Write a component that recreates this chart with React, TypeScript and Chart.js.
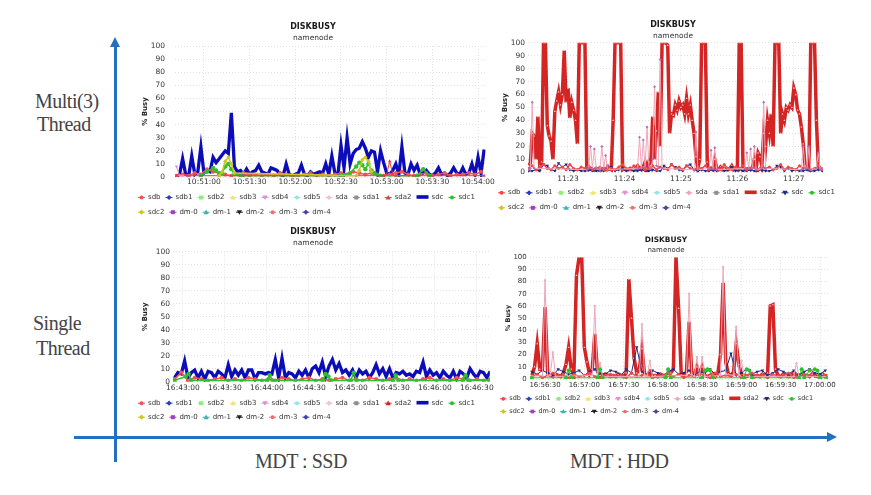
import React, { useEffect, useRef } from "react";
import { Chart, registerables } from "chart.js";

Chart.register(...registerables);

const FONT = "'DejaVu Sans', 'Liberation Sans', sans-serif";
const SERIF = "'Liberation Serif', 'DejaVu Serif', serif";
const AXIS_BLUE = "#2470c0";
const GRID = "#e2e2e2";

// ---------------- series names / colours ----------------
const SERIES_NAMES = ["sdb", "sdb1", "sdb2", "sdb3", "sdb4", "sdb5", "sda", "sda1", "sda2", "sdc", "sdc1", "sdc2", "dm-0", "dm-1", "dm-2", "dm-3", "dm-4"];
const SERIES_COLORS: Record<string, string> = {
  sdb: "#f25252", sdb1: "#2b3dbd", sdb2: "#90ed7d", sdb3: "#f3e46a", sdb4: "#e58ad6", sdb5: "#8ee6e6",
  sda: "#f5c2c8", sda1: "#8d8d8d", sda2: "#d42424", sdc: "#0c0cb8", sdc1: "#2fbf2f", sdc2: "#cfc626",
  "dm-0": "#a040c0", "dm-1": "#3cb3b3", "dm-2": "#222222", "dm-3": "#f26d6d", "dm-4": "#4545a5",
};
const MARKERS = ["circle", "diamond", "square", "triangle", "triangle-down"];

// ---------------- chart 1 : multi thread / SSD (seconds after 10:50:00) ----------------
const C1_TICKS = [60, 90, 120, 150, 180, 210, 240];
const C1_TICK_LABELS = ["10:51:00", "10:51:30", "10:52:00", "10:52:30", "10:53:00", "10:53:30", "10:54:00"];
const C1_SDC = [0, 2, 14, 2, 1, 16, 2, 4, 23, 3, 5, 4, 15, 11, 14, 17, 20, 18, 49, 8, 4, 5, 2, 6, 2, 4, 5, 9, 4, 3, 2, 7, 6, 5, 2, 1, 10, 2, 1, 2, 3, 9, 2, 1, 4, 2, 3, 4, 3, 10, 2, 16, 3, 2, 24, 7, 30, 10, 18, 21, 22, 27, 22, 15, 20, 19, 4, 20, 11, 3, 2, 5, 10, 2, 23, 3, 2, 10, 5, 9, 2, 3, 5, 2, 1, 3, 7, 2, 3, 1, 3, 7, 3, 2, 7, 2, 3, 10, 2, 15, 3, 21];
const C1_SDB = [1, 2, 1, 3, 2, 6, 4, 3, 2, 1, 2, 3, 1, 2, 1, 2, 1, 3, 2, 1, 1, 2, 3, 1, 2, 1, 2, 3, 2, 4, 3, 2, 3, 2, 1, 2, 3, 4, 2, 1, 2, 3, 1, 2, 3, 1, 2, 2, 3, 2, 4];
const C1_SDC1_T = [58, 62, 66, 68, 70, 72, 74, 76, 78, 80, 84, 150, 156, 160, 162, 164, 166, 168, 170, 172, 176, 200, 204, 208];
const C1_SDC1_V = [1, 4, 7, 5, 2, 3, 8, 10, 6, 2, 1, 1, 3, 8, 11, 9, 6, 10, 5, 3, 1, 1, 6, 1];
const C1_SDC2_T = [70, 72, 74, 76, 78, 80, 160, 162, 164, 166, 168, 170];
const C1_SDC2_V = [1, 4, 12, 15, 10, 3, 1, 5, 13, 15, 12, 4];
const C1_SDA2_T = [42, 178, 180, 182, 184, 186, 244];
const C1_SDA2_V = [1, 1, 2, 12, 2, 1, 1];
const C1_SDB4_T = [42, 44, 46];
const C1_SDB4_V = [8, 1, 1];

// ---------------- chart 2 : multi thread / HDD (seconds after 11:22:00) ----------------
const C2_TICKS = [60, 120, 180, 240, 300];
const C2_TICK_LABELS = ["11:23", "11:24", "11:25", "11:26", "11:27"];
const C2_SDA2 = [5, 7, 30, 28, 10, 43, 5, 8, 100, 100, 36, 28, 24, 10, 47, 55, 62, 52, 60, 94, 54, 65, 42, 54, 48, 40, 22, 100, 100, 100, 100, 2, 2, 3, 2, 2, 3, 2, 1, 2, 3, 2, 2, 3, 2, 40, 100, 100, 100, 100, 2, 3, 2, 2, 3, 2, 2, 3, 5, 3, 2, 4, 8, 3, 8, 5, 43, 10, 32, 62, 20, 100, 100, 100, 98, 30, 45, 44, 52, 48, 55, 50, 52, 45, 57, 45, 52, 40, 30, 12, 3, 10, 100, 100, 100, 8, 2, 3, 2, 10, 3, 2, 4, 2, 3, 2, 2, 3, 5, 2, 3, 2, 100, 100, 2, 3, 2, 3, 2, 4, 10, 3, 15, 12, 5, 30, 20, 40, 30, 45, 20, 100, 100, 100, 30, 45, 40, 50, 48, 52, 50, 65, 60, 48, 45, 35, 22, 5, 3, 2, 100, 100, 100, 40, 5, 3, 2];
const C2_SDB = [3, 5, 2, 4, 6, 3, 2, 5, 3, 4, 2, 6, 3, 2, 4, 3, 5, 2, 3, 4, 2, 5, 3, 2, 4, 6, 3, 2, 5, 3, 4, 2, 3, 5, 2, 4, 3, 2, 6, 3, 4, 2, 5, 3, 2, 4, 3, 5, 2, 3, 4, 2, 6, 3, 2, 4, 3, 5, 2, 3, 4, 2, 5, 3, 4, 2, 3, 6, 2, 4, 3, 2, 5, 3, 4, 2, 3, 5, 2];
const C2_SDC = [1, 1, 2, 1, 6, 5, 2, 1, 7, 4, 6, 2, 1, 2, 1, 1, 2, 1, 1, 2, 1, 5, 4, 1, 2, 3, 1, 2, 1, 1, 2, 1, 1, 2, 1, 1, 5, 3, 6, 4, 2, 1, 5, 6, 2, 1, 2, 1, 1, 2, 1, 3, 1, 2, 4, 1, 2, 1, 1, 2, 1, 1, 2, 1, 1, 2, 5, 4, 1, 3, 1, 2, 1, 1, 2, 1, 1, 2, 1];
const C2_SDA_T = [18, 20, 22, 24, 80, 82, 84, 86, 88, 90, 94, 96, 98, 100, 102, 134, 136, 138, 140, 142, 144, 146, 148, 150, 152, 154, 156, 158, 160, 194, 196, 198, 210, 212, 214, 216, 218, 248, 250, 252, 254, 256, 258, 260, 266, 268, 270, 308, 310, 312, 314, 316, 318, 324, 326, 328, 330];
const C2_SDA_V = [2, 3, 54, 3, 2, 3, 20, 3, 18, 3, 2, 20, 3, 13, 2, 3, 27, 3, 25, 4, 35, 5, 3, 10, 66, 5, 4, 87, 3, 2, 31, 2, 3, 17, 3, 19, 2, 3, 15, 3, 18, 3, 20, 2, 3, 54, 3, 2, 20, 3, 3, 20, 2, 3, 15, 2, 3];

// ---------------- chart 3 : single thread / SSD (seconds after 16:43:00) ----------------
const C3_TICKS = [0, 30, 60, 90, 120, 150, 180, 210];
const C3_TICK_LABELS = ["16:43:00", "16:43:30", "16:44:00", "16:44:30", "16:45:00", "16:45:30", "16:46:00", "16:46:30"];
const C3_SDC = [3, 7, 6, 16, 3, 7, 9, 3, 8, 2, 8, 7, 3, 8, 6, 3, 13, 4, 9, 5, 9, 3, 9, 9, 2, 7, 7, 6, 7, 6, 17, 3, 18, 3, 7, 6, 3, 8, 5, 9, 3, 10, 12, 7, 15, 4, 12, 17, 9, 14, 7, 9, 5, 9, 3, 9, 6, 8, 3, 7, 13, 6, 10, 4, 10, 3, 7, 6, 8, 5, 6, 4, 8, 7, 15, 4, 9, 5, 7, 3, 8, 5, 3, 8, 2, 8, 6, 3, 10, 6, 3, 8, 7, 3, 8];
const C3_SDB = [2, 7, 1, 3, 2, 1, 2, 3, 1, 2, 1, 3, 2, 1, 2, 1, 3, 2, 1, 2, 3, 1, 2, 1, 2, 3, 1, 2, 1, 3, 2, 1, 2, 3, 1, 2, 1, 2, 3, 1, 2, 1, 3, 2, 1, 2, 1, 2];
const C3_SDC1_T = [-6, 2, 4, 6, 60, 62, 64, 100, 102, 104, 106, 120, 122, 124, 150, 152, 154, 200, 202, 204, 219];
const C3_SDC1_V = [1, 4, 6, 1, 1, 5, 1, 1, 6, 4, 1, 1, 7, 1, 1, 5, 1, 1, 5, 1, 1];

// ---------------- chart 4 : single thread / HDD (seconds after 16:56:00) ----------------
const C4_TICKS = [30, 60, 90, 120, 150, 180, 210, 240];
const C4_TICK_LABELS = ["16:56:30", "16:57:00", "16:57:30", "16:58:00", "16:58:30", "16:59:00", "16:59:30", "17:00:00"];
const C4_SDA2 = [3, 10, 29, 8, 8, 59, 5, 3, 2, 4, 3, 2, 5, 12, 26, 8, 3, 85, 100, 100, 26, 14, 4, 8, 37, 6, 3, 2, 4, 3, 2, 3, 2, 4, 3, 2, 5, 82, 50, 17, 5, 8, 25, 4, 3, 6, 2, 3, 2, 4, 3, 2, 3, 5, 8, 100, 58, 4, 3, 6, 47, 5, 3, 10, 4, 10, 3, 2, 3, 4, 2, 5, 20, 79, 14, 4, 3, 6, 29, 12, 4, 3, 2, 3, 4, 2, 3, 2, 4, 3, 5, 60, 61, 8, 3, 2, 4, 3, 2, 3, 5, 2, 3, 4, 2, 3, 2, 4, 3, 2, 3, 4, 2, 3];
const C4_SDB = [2, 4, 1, 3, 5, 2, 3, 1, 4, 2, 3, 5, 2, 1, 3, 4, 2, 3, 1, 5, 2, 3, 4, 1, 2, 3, 5, 2, 4, 1, 3, 2, 4, 3, 1, 5, 2, 3, 2, 4, 1, 3, 5, 2, 3, 1, 4, 2, 3, 5, 1, 2, 4, 3, 2, 1, 3];
const C4_SDC = [6, 4, 7, 5, 3, 8, 6, 4, 5, 7, 3, 6, 8, 5, 4, 7, 6, 3, 8, 5, 26, 6, 4, 7, 5, 3, 6, 8, 4, 5, 7, 3, 6, 5, 8, 4, 6, 7, 21, 3, 5, 8, 4, 6, 7, 3, 5, 8, 6, 4, 7, 3, 6, 8, 5, 4, 7];
const C4_SDA_T = [20, 28, 30, 32, 34, 36, 38, 66, 68, 70, 72, 74, 102, 104, 106, 108, 110, 112, 138, 140, 142, 144, 146, 148, 150, 152, 164, 166, 168, 174, 176, 178, 180, 182, 220, 222, 224, 246];
const C4_SDA_V = [2, 3, 81, 2, 3, 22, 2, 3, 60, 3, 13, 2, 2, 45, 3, 2, 15, 2, 3, 70, 4, 2, 18, 2, 18, 2, 3, 92, 4, 3, 43, 3, 15, 2, 2, 13, 2, 2];
const C4_SDC1_T = [20, 46, 48, 50, 70, 72, 74, 122, 124, 126, 150, 152, 154, 156, 158, 182, 184, 186, 188, 224, 226, 228, 232, 236, 238, 240, 246];
const C4_SDC1_V = [1, 1, 7, 1, 1, 8, 1, 1, 8, 1, 1, 7, 8, 7, 1, 1, 8, 7, 1, 1, 8, 1, 7, 8, 7, 1, 1];

// ---------------- helpers ----------------
const onGrid = (start: number, step: number, vals: number[]) => vals.map((y, i) => ({ x: start + i * step, y }));
const zip = (ts: number[], vs: number[]) => ts.map((x, i) => ({ x, y: vs[i] }));

type St = { width?: number; r?: number; order?: number; thick?: boolean; color?: string; pointColor?: string };

function series(name: string, data: any[], st: St = {}) {
  const idx = SERIES_NAMES.indexOf(name);
  const color = st.color || SERIES_COLORS[name];
  const m = MARKERS[idx % 5];
  const ps = m === "diamond" ? "rectRot" : m === "square" ? "rect" : m === "triangle-down" ? "triangle" : m;
  return {
    label: name,
    data,
    xAxisID: "x",
    yAxisID: "y",
    borderColor: color,
    backgroundColor: color,
    borderWidth: st.width ?? 1,
    pointRadius: st.r ?? 0,
    pointStyle: ps,
    rotation: m === "triangle-down" ? 180 : 0,
    pointBackgroundColor: st.pointColor || color,
    pointBorderColor: st.pointColor || color,
    pointBorderWidth: 0,
    fill: false,
    tension: 0,
    order: st.order ?? 9,
    legendThick: !!st.thick,
    legendMarker: m,
    legendColor: color,
  };
}

function allSeries(given: Record<string, any>) {
  return SERIES_NAMES.map((n) => given[n] || series(n, []));
}

function drawMarker(ctx: CanvasRenderingContext2D, kind: string, x: number, y: number, r: number) {
  ctx.beginPath();
  if (kind === "circle") ctx.arc(x, y, r, 0, Math.PI * 2);
  else if (kind === "diamond") { ctx.moveTo(x, y - r * 1.3); ctx.lineTo(x + r * 1.3, y); ctx.lineTo(x, y + r * 1.3); ctx.lineTo(x - r * 1.3, y); ctx.closePath(); }
  else if (kind === "square") ctx.rect(x - r, y - r, 2 * r, 2 * r);
  else if (kind === "triangle") { ctx.moveTo(x, y - r * 1.3); ctx.lineTo(x + r * 1.3, y + r); ctx.lineTo(x - r * 1.3, y + r); ctx.closePath(); }
  else { ctx.moveTo(x, y + r * 1.3); ctx.lineTo(x + r * 1.3, y - r); ctx.lineTo(x - r * 1.3, y - r); ctx.closePath(); }
  ctx.fill();
}

const rowLegend = {
  id: "rowLegend",
  afterDraw(chart: any, _a: any, o: any) {
    const ctx = chart.ctx as CanvasRenderingContext2D;
    ctx.save();
    ctx.font = `${o.size}px ${FONT}`;
    ctx.textBaseline = "middle";
    let x = o.x;
    let row = 0;
    chart.data.datasets.forEach((d: any, i: number) => {
      if (i > 0 && i % o.perRow === 0) { row++; x = o.x; }
      const y = o.rows[row];
      const w = d.legendThick ? o.thickW : o.symW;
      ctx.fillStyle = d.legendColor;
      ctx.strokeStyle = d.legendColor;
      if (d.legendThick) {
        ctx.fillRect(x, y - 1.8, w, 3.6);
      } else {
        ctx.lineWidth = 1;
        ctx.beginPath();
        ctx.moveTo(x, y + 0.5);
        ctx.lineTo(x + w, y + 0.5);
        ctx.stroke();
        drawMarker(ctx, d.legendMarker, x + w / 2, y + 0.5, o.r);
      }
      x += w + o.gap;
      ctx.fillStyle = "#333";
      ctx.fillText(d.label, x, y);
      x += ctx.measureText(d.label).width + o.pad;
    });
    ctx.restore();
  },
};

type Geo = {
  left: number; top: number; width: number; height: number; s: number;
  titlePad: number; subTop: number; subBottom: number;
  yW: number; yPad: number; yTitlePad: number; xH: number; xPad: number; rightGap: number;
  legendSpace: number; legendX: number; legendRows: number[];
};

const G1: Geo = { left: 130, top: 15, width: 366, height: 205, s: 1, titlePad: 7.5, subTop: 1.7, subBottom: 3.2, yW: 45, yPad: 10, yTitlePad: 10.8, xH: 12, xPad: 1, rightGap: 5, legendSpace: 31, legendX: 8, legendRows: [182, 196.7] };
const G2: Geo = { left: 493, top: 12, width: 360, height: 203, s: 1, titlePad: 8.2, subTop: 1.4, subBottom: 2.5, yW: 35, yPad: 3, yTitlePad: 7.8, xH: 12, xPad: 2.2, rightGap: 30, legendSpace: 30.7, legendX: 5, legendRows: [180.3, 195.3] };
const G3: Geo = { left: 130, top: 220, width: 366, height: 205, s: 1, titlePad: 7.5, subTop: 1.7, subBottom: 3.9, yW: 43, yPad: 3, yTitlePad: 10.8, xH: 12, xPad: 2.1, rightGap: 6, legendSpace: 31.3, legendX: 8, legendRows: [182.7, 196.7] };
const G4: Geo = { left: 493, top: 228, width: 346, height: 192, s: 0.93, titlePad: 7.5, subTop: 1.3, subBottom: 3.1, yW: 37, yPad: 3.3, yTitlePad: 11.1, xH: 12, xPad: 1.8, rightGap: 11, legendSpace: 29, legendX: 7, legendRows: [170.3, 183] };

function buildConfig(g: Geo, xr: { min: number; max: number; ticks: number[]; labels: string[] }, datasets: any[]) {
  const s = g.s;
  const tickFont = { family: FONT, size: 7.5 * s };
  return {
    type: "line",
    data: { datasets },
    options: {
      animation: false,
      responsive: false,
      maintainAspectRatio: false,
      events: [],
      layout: { autoPadding: false, padding: { top: 0, left: 0, right: 0, bottom: g.legendSpace } },
      plugins: {
        legend: { display: false },
        tooltip: { enabled: false },
        title: { display: true, text: "DISKBUSY", color: "#1a1a1a", font: { family: FONT, size: 8 * s, weight: "bold" }, padding: { top: g.titlePad, bottom: 0 } },
        subtitle: { display: true, text: "namenode", color: "#333", font: { family: FONT, size: 7.5 * s }, padding: { top: g.subTop, bottom: g.subBottom } },
        rowLegend: { x: g.legendX, rows: g.legendRows, perRow: 11, size: 7 * s, symW: 7 * s, thickW: 12 * s, gap: 3 * s, pad: 5 * s, r: 2 * s },
      },
      scales: {
        x: {
          type: "linear",
          min: xr.min,
          max: xr.max,
          afterBuildTicks: (sc: any) => { sc.ticks = xr.ticks.map((v) => ({ value: v })); },
          afterFit: (sc: any) => { sc.height = g.xH; },
          ticks: {
            autoSkip: false, maxRotation: 0, minRotation: 0, padding: g.xPad, color: "#333", font: tickFont,
            callback: (v: number) => { const i = xr.ticks.indexOf(v); return i < 0 ? "" : xr.labels[i]; },
          },
          grid: { color: GRID, drawTicks: false },
          border: { display: false, dash: [1, 2] },
        },
        y: {
          type: "linear",
          min: 0,
          max: 100,
          afterFit: (sc: any) => { sc.width = g.yW; },
          ticks: { stepSize: 10, padding: g.yPad, color: "#333", font: tickFont },
          grid: { color: GRID, drawTicks: false },
          border: { display: false, dash: [1, 2] },
          title: { display: true, text: "% Busy", color: "#222", font: { family: FONT, size: 7 * s, weight: "bold" }, padding: { top: g.yTitlePad, bottom: 0 } },
        },
        yr: {
          type: "linear",
          position: "right",
          display: true,
          afterFit: (sc: any) => { sc.width = g.rightGap; },
          ticks: { display: false },
          grid: { display: false, drawTicks: false },
          border: { display: false },
        },
      },
    },
    plugins: [rowLegend],
  };
}

function chart1() {
  return buildConfig(G1, { min: 41, max: 245, ticks: C1_TICKS, labels: C1_TICK_LABELS }, allSeries({
    sdb: series("sdb", onGrid(42, 4, C1_SDB), { width: 1.5, r: 2, order: 3 }),
    sdb4: series("sdb4", zip(C1_SDB4_T, C1_SDB4_V), { width: 1, r: 2, order: 2 }),
    sda2: series("sda2", zip(C1_SDA2_T, C1_SDA2_V), { width: 1, r: 2, order: 2, color: "#e04040" }),
    sdc: series("sdc", onGrid(42, 2, C1_SDC), { width: 3.3, r: 0, order: 6, thick: true }),
    sdc1: series("sdc1", zip(C1_SDC1_T, C1_SDC1_V), { width: 1.5, r: 2.2, order: 2 }),
    sdc2: series("sdc2", zip(C1_SDC2_T, C1_SDC2_V), { width: 1.5, r: 2.2, order: 1 }),
  }));
}

function chart2() {
  return buildConfig(G2, { min: 17.5, max: 331, ticks: C2_TICKS, labels: C2_TICK_LABELS }, allSeries({
    sdb: series("sdb", onGrid(18, 4, C2_SDB), { width: 1.5, r: 1.5, order: 4, color: "#f04848" }),
    sda: series("sda", zip(C2_SDA_T, C2_SDA_V), { width: 1, r: 1.5, order: 3, color: "#f0a6b8", pointColor: "#b070c0" }),
    sda2: series("sda2", onGrid(18, 2, C2_SDA2), { width: 3.5, r: 1.2, order: 6, thick: true, pointColor: "#f7c4c4" }),
    sdc: series("sdc", onGrid(18, 4, C2_SDC), { width: 1, r: 2, order: 5, color: "#1f2a80" }),
  }));
}

function chart3() {
  return buildConfig(G3, { min: -7.1, max: 219.3, ticks: C3_TICKS, labels: C3_TICK_LABELS }, allSeries({
    sdb: series("sdb", onGrid(-6, 4.8, C3_SDB), { width: 1.5, r: 2, order: 3 }),
    sdc: series("sdc", onGrid(-6, 2.4, C3_SDC), { width: 3.3, r: 0, order: 6, thick: true }),
    sdc1: series("sdc1", zip(C3_SDC1_T, C3_SDC1_V), { width: 1.5, r: 2.2, order: 2 }),
  }));
}

function chart4() {
  return buildConfig(G4, { min: 18.5, max: 246.1, ticks: C4_TICKS, labels: C4_TICK_LABELS }, allSeries({
    sdb: series("sdb", onGrid(20, 4, C4_SDB), { width: 1.5, r: 1.5, order: 4, color: "#f04848" }),
    sda: series("sda", zip(C4_SDA_T, C4_SDA_V), { width: 1, r: 1.5, order: 3, color: "#f0a6b8", pointColor: "#e9b0c0" }),
    sda2: series("sda2", onGrid(20, 2, C4_SDA2), { width: 3.5, r: 1.2, order: 6, thick: true, pointColor: "#f7c4c4" }),
    sdc: series("sdc", onGrid(20, 4, C4_SDC), { width: 1, r: 2, order: 5, color: "#1f2a80" }),
    sdc1: series("sdc1", zip(C4_SDC1_T, C4_SDC1_V), { width: 1, r: 2, order: 2 }),
  }));
}

function ChartCanvas({ geo, build }: { geo: Geo; build: () => any }) {
  const ref = useRef<HTMLCanvasElement | null>(null);
  useEffect(() => {
    const c = new Chart(ref.current as HTMLCanvasElement, build());
    return () => c.destroy();
  }, []);
  return (
    <canvas
      ref={ref}
      width={geo.width}
      height={geo.height}
      style={{ position: "absolute", left: geo.left, top: geo.top, width: geo.width, height: geo.height }}
    />
  );
}

const labelStyle = (left: number, baseline: number): React.CSSProperties => ({
  position: "absolute",
  left,
  top: baseline - 16.75,
  fontFamily: SERIF,
  fontSize: 20,
  lineHeight: "20px",
  color: "#444",
  whiteSpace: "nowrap",
  letterSpacing: -0.5,
});

export default function App() {
  return (
    <div style={{ position: "absolute", left: 0, top: 0, width: 871, height: 495, background: "#fff", overflow: "hidden" }}>
      <div style={{ position: "absolute", left: 113.5, top: 45, width: 3, height: 417, background: AXIS_BLUE }} />
      <div style={{ position: "absolute", left: 109.5, top: 37, width: 0, height: 0, borderLeft: "5.5px solid transparent", borderRight: "5.5px solid transparent", borderBottom: `10px solid ${AXIS_BLUE}` }} />
      <div style={{ position: "absolute", left: 74, top: 435.5, width: 754, height: 3, background: AXIS_BLUE }} />
      <div style={{ position: "absolute", left: 827, top: 431.5, width: 0, height: 0, borderTop: "5.5px solid transparent", borderBottom: "5.5px solid transparent", borderLeft: `10px solid ${AXIS_BLUE}` }} />

      <div style={labelStyle(35, 107.5)}>Multi(3)</div>
      <div style={labelStyle(37, 130.5)}>Thread</div>
      <div style={labelStyle(33, 330)}>Single</div>
      <div style={labelStyle(36, 355)}>Thread</div>
      <div style={labelStyle(255, 468)}>MDT : SSD</div>
      <div style={labelStyle(570, 468)}>MDT : HDD</div>

      <ChartCanvas geo={G1} build={chart1} />
      <ChartCanvas geo={G2} build={chart2} />
      <ChartCanvas geo={G3} build={chart3} />
      <ChartCanvas geo={G4} build={chart4} />
    </div>
  );
}
